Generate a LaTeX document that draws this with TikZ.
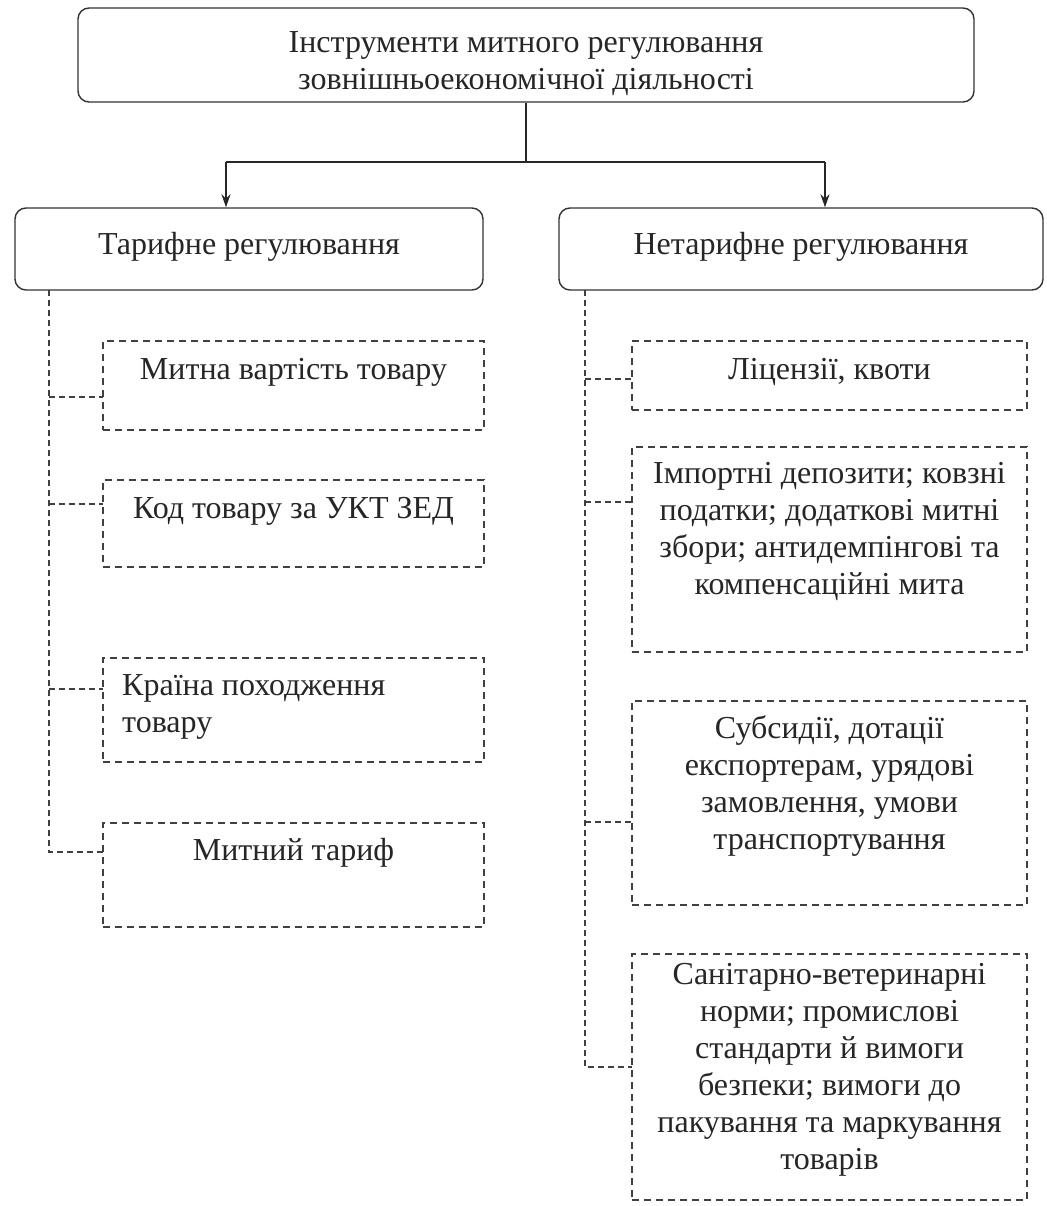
\documentclass[tikz,border=0pt]{standalone}
\usepackage{fontspec}
\setmainfont{Liberation Serif}
\usetikzlibrary{arrows.meta,calc}
\begin{document}
\begin{tikzpicture}[x=1pt,y=-1pt,
  every node/.style={font=\fontsize{32}{37}\selectfont, text=black!85, inner sep=0pt},
  solidbox/.style={draw=black!80, line width=1.4pt, rounded corners=11pt, rectangle},
  dbox/.style={draw=black!75, line width=1.4pt, dash pattern=on 7pt off 5pt, rectangle},
  conn/.style={draw=black!75, line width=1.3pt, dash pattern=on 6pt off 4pt},
  plain/.style={draw=black!85, line width=1.4pt},
  arr/.style={draw=black!85, line width=1.4pt, -{Stealth[length=13pt,width=9pt]}}]
\useasboundingbox (0,0) rectangle (1046,1206);
\fill[white] (0,0) rectangle (1046,1206);

% top
\node[solidbox, minimum width=896pt, minimum height=94pt] (top) at (526,55) {};
\node[align=center] (toptxt) at (526,64) {Інструменти митного регулювання\\зовнішньоекономічної діяльності};

% level 2
\node[solidbox, minimum width=468pt, minimum height=82pt] (tarif) at (249,249) {};
\node (tariftxt) at (249,247) {Тарифне регулювання};
\node[solidbox, minimum width=484pt, minimum height=82pt] (ntarif) at (801,249) {};
\node (ntariftxt) at (801,247) {Нетарифне регулювання};

\coordinate (jl) at (226,162);
\coordinate (jr) at (825,162);
\draw[plain] (top.south) -- (top.south |- jl);
\draw[plain] (jl) -- (jr);
\draw[arr] (jl) -- (jl |- tarif.north);
\draw[arr] (jr) -- (jr |- ntarif.north);

% left column boxes
\node[dbox, minimum width=381pt, minimum height=89pt] (t1) at (293.5,385.5) {};
\node (t1txt) at (293.5,372) {Митна вартість товару};
\node[dbox, minimum width=381pt, minimum height=87pt] (t2) at (293.5,523.5) {};
\node (t2txt) at (293.5,511) {Код товару за УКТ ЗЕД};
\node[dbox, minimum width=381pt, minimum height=104pt] (t3) at (293.5,710) {};
\node[anchor=west, align=left] (t3txt) at (122,707) {Країна походження\\товару};
\node[dbox, minimum width=381pt, minimum height=104pt] (t4) at (293.5,875) {};
\node (t4txt) at (293.5,853) {Митний тариф};

% right column boxes
\node[dbox, minimum width=395pt, minimum height=69pt] (n1) at (829.5,375.5) {};
\node (n1txt) at (829.5,372) {Ліцензії, квоти};
\node[dbox, minimum width=395pt, minimum height=205pt] (n2) at (829.5,549.5) {};
\node[align=center] (n2txt) at (829.5,531) {Імпортні депозити; ковзні\\податки; додаткові митні\\збори; антидемпінгові та\\компенсаційні мита};
\node[dbox, minimum width=395pt, minimum height=204pt] (n3) at (829.5,803) {};
\node[align=center] (n3txt) at (829.5,786) {Субсидії, дотації\\експортерам, урядові\\замовлення, умови\\транспортування};
\node[dbox, minimum width=395pt, minimum height=246pt] (n4) at (829.5,1077) {};
\node[align=center] (n4txt) at (829.5,1070) {Санітарно-ветеринарні\\норми; промислові\\стандарти й вимоги\\безпеки; вимоги до\\пакування та маркування\\товарів};

% left connectors
\coordinate (lt) at (49,290);
\coordinate (c1) at (103,397);
\coordinate (c2) at (103,504);
\coordinate (c3) at (103,689);
\coordinate (c4) at (103,852);
\draw[conn] (lt) |- (c4);
\draw[conn] (c1 -| lt) -- (c1);
\draw[conn] (c2 -| lt) -- (c2);
\draw[conn] (c3 -| lt) -- (c3);

% right connectors
\coordinate (rt) at (585,290);
\coordinate (d1) at (632,379);
\coordinate (d2) at (632,502);
\coordinate (d3) at (632,822);
\coordinate (d4) at (632,1067);
\draw[conn] (rt) |- (d4);
\draw[conn] (d1 -| rt) -- (d1);
\draw[conn] (d2 -| rt) -- (d2);
\draw[conn] (d3 -| rt) -- (d3);
\end{tikzpicture}
\end{document}
